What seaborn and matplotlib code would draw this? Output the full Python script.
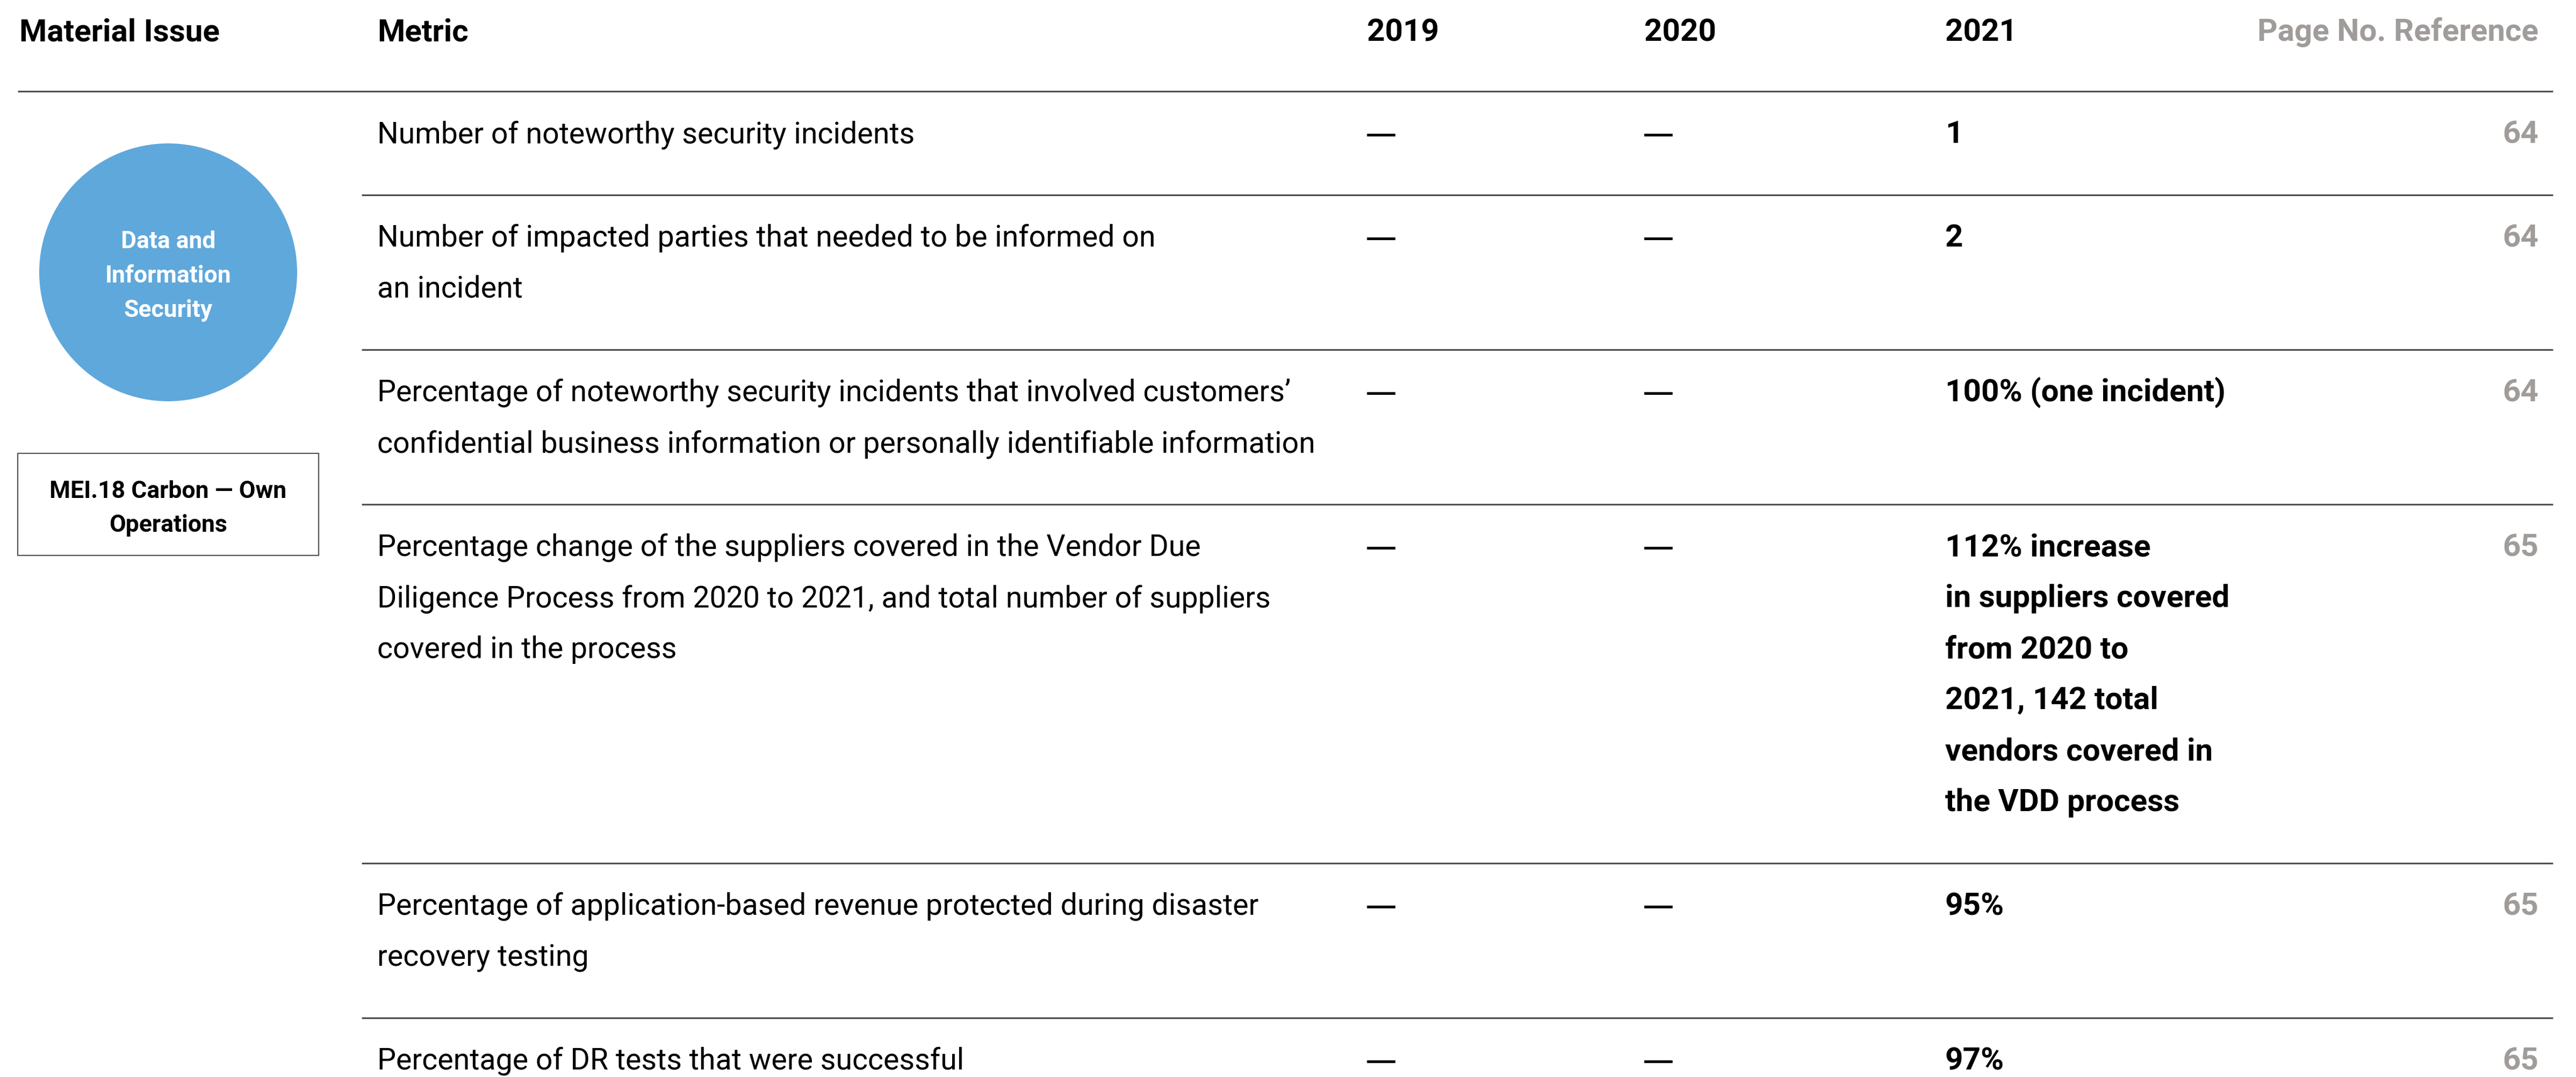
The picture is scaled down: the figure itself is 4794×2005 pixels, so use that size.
import matplotlib
matplotlib.use("Agg")
import matplotlib.pyplot as plt
from matplotlib.patches import Circle, Rectangle
import seaborn as sns

# table content
headers = ["Material Issue", "Metric", "2019", "2020", "2021", "Page No. Reference"]
issue_name = "Data and\nInformation\nSecurity"
issue_tag = "MEI.18 Carbon \u2014 Own\nOperations"

metrics = [
    "Number of noteworthy security incidents",
    "Number of impacted parties that needed to be informed on\nan incident",
    "Percentage of noteworthy security incidents that involved customers\u2019\nconfidential business information or personally identifiable information",
    "Percentage change of the suppliers covered in the Vendor Due\nDiligence Process from 2020 to 2021, and total number of suppliers\ncovered in the process",
    "Percentage of application-based revenue protected during disaster\nrecovery testing",
    "Percentage of DR tests that were successful",
]
vals_2019 = ["\u2014", "\u2014", "\u2014", "\u2014", "\u2014", "\u2014"]
vals_2020 = ["\u2014", "\u2014", "\u2014", "\u2014", "\u2014", "\u2014"]
vals_2021 = [
    "1",
    "2",
    "100% (one incident)",
    "112% increase\nin suppliers covered\nfrom 2020 to\n2021, 142 total\nvendors covered in\nthe VDD process",
    "95%",
    "97%",
]
pages = ["64", "64", "64", "65", "65", "65"]

sns.set_theme(style="white")
plt.rcParams["font.family"] = ["Roboto", "Liberation Sans", "DejaVu Sans"]

W, H = 4794, 2005
fig = plt.figure(figsize=(W / 100, H / 100), dpi=100)
ax = fig.add_axes([0, 0, 1, 1])
ax.set_xlim(0, W)
ax.set_ylim(H, 0)
ax.axis("off")

body_fs = 40
bold_fs = 42
small_fs = 32
line_h = 95
grey = "#a09c9a"
rule = "#4d4d4d"

col_x = [36, 702, 2544, 3060, 3620, 4724]

# header
for i, h in enumerate(headers):
    ha = "right" if i == 5 else "left"
    color = grey if i == 5 else "black"
    ax.text(col_x[i], 76, h, ha=ha, va="baseline", fontsize=bold_fs,
            fontweight="bold", color=color)
ax.plot([33, 4751], [170, 170], color=rule, lw=2.2, solid_capstyle="butt")


def draw_lines(x, y0, s, **kw):
    for k, ln in enumerate(s.split("\n")):
        ax.text(x, y0 + k * line_h, ln, va="baseline", **kw)


top = 170
for r in range(len(metrics)):
    n = max(metrics[r].count("\n"), vals_2021[r].count("\n")) + 1
    base = top + 96
    draw_lines(col_x[1], base, metrics[r], fontsize=body_fs, color="black", ha="left")
    # dashes drawn with Liberation Sans: wider em dash like the original
    draw_lines(col_x[2], base, vals_2019[r], fontsize=38, fontweight="bold", color="black",
               ha="left", family="Liberation Sans")
    draw_lines(col_x[3], base, vals_2020[r], fontsize=38, fontweight="bold", color="black",
               ha="left", family="Liberation Sans")
    draw_lines(col_x[4], base, vals_2021[r], fontsize=bold_fs, fontweight="bold", color="black", ha="left")
    draw_lines(col_x[5], base, pages[r], fontsize=bold_fs, fontweight="bold", color=grey, ha="right")
    top = top + n * line_h + 98
    if r < len(metrics) - 1:
        ax.plot([673, 4751], [top, top], color=rule, lw=2.2, solid_capstyle="butt")

# material issue badge
ax.add_patch(Circle((313, 507), 240, color="#5fa8dc", lw=0))
for k, ln in enumerate(issue_name.split("\n")):
    ax.text(313, 462 + k * 64, ln, ha="center", va="baseline", fontsize=small_fs,
            fontweight="bold", color="white")

ax.add_patch(Rectangle((33, 844), 560, 190, fill=False, edgecolor="#555555", lw=1.6))
for k, ln in enumerate(issue_tag.split("\n")):
    ax.text(313, 927 + k * 63, ln, ha="center", va="baseline", fontsize=small_fs,
            fontweight="bold", color="black")

fig.savefig("out.png", dpi=100)
